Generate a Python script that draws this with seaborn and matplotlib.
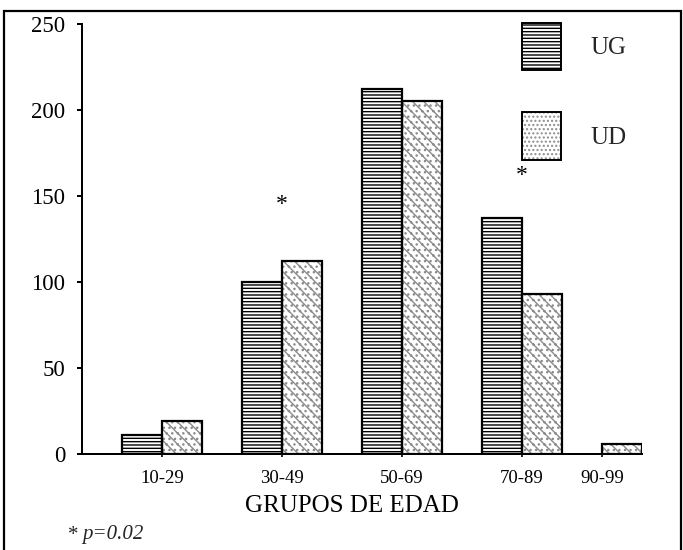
import numpy as np
import pandas as pd
import matplotlib
matplotlib.use("Agg")
import matplotlib.pyplot as plt
import seaborn as sns
from matplotlib.patches import Patch, Rectangle
from matplotlib.transforms import ScaledTranslation

# ---- data ----
groups = ["10-29", "30-49", "50-69", "70-89", "90-99"]
ug_values = [11, 100, 212, 137, np.nan]
ud_values = [19, 112, 205, 93, 6]
series = ["UG", "UD"]
y_ticks = [0, 50, 100, 150, 200, 250]
star_groups = ["30-49", "70-89"]
star_heights = [145, 162]
x_title = "GRUPOS DE EDAD"
footnote = "p=0.02"

# ---- layout (group centres on the axis) ----
group_pos = [0.0, 1.0, 2.0, 3.0, 11.0 / 3.0]

sns.set_theme(style="white")
plt.rcParams["font.family"] = ["Liberation Serif", "DejaVu Serif"]
plt.rcParams["hatch.linewidth"] = 1.0

df = pd.DataFrame({
    "pos": group_pos * 2,
    "value": ug_values + ud_values,
    "serie": [series[0]] * len(groups) + [series[1]] * len(groups),
}).dropna()

fig = plt.figure(figsize=(6.83, 5.5), dpi=100)
ax = fig.add_axes([82 / 683, 1 - 454 / 550, 560 / 683, 430 / 550])

ud_color = "#8c8c8c"
# hatched fill layer
sns.barplot(data=df, x="pos", y="value", hue="serie", hue_order=series,
            native_scale=True, width=1.0, dodge=True,
            palette=["white", "white"], edgecolor=ud_color, linewidth=0,
            errorbar=None, legend=False, ax=ax)
ug_hatch = "-----"
ud_hatch = "\\\\\\..."
for bar in ax.containers[0]:
    bar.set_hatch(ug_hatch)
    bar.set_edgecolor("black")
    bar.set_linewidth(0)
for bar in ax.containers[1]:
    bar.set_hatch(ud_hatch)
    bar.set_edgecolor(ud_color)
    bar.set_linewidth(0)

# outline layer
sns.barplot(data=df, x="pos", y="value", hue="serie", hue_order=series,
            native_scale=True, width=1.0, dodge=True, fill=False,
            palette=["black", "black"], linewidth=1.6,
            errorbar=None, legend=False, ax=ax)

ax.set_xlim(-2.0 / 3.0, 4.0)
ax.set_ylim(0, 250)
ax.set_yticks(y_ticks)
ax.set_yticklabels([str(v) for v in y_ticks], fontsize=16.5)
ax.set_xticks(group_pos)
ax.set_xticklabels(groups, fontsize=13.5)
lab = ax.get_xticklabels()[-1]
lab.set_transform(lab.get_transform() + ScaledTranslation(0.10, 0, fig.dpi_scale_trans))

ax.tick_params(axis="y", direction="out", length=3.6, width=1.44, pad=8.5,
               colors="black", left=True)
ax.tick_params(axis="x", direction="out", length=2.5, width=1.2, pad=9.0,
               colors="black", bottom=True)
for s in ["top", "right"]:
    ax.spines[s].set_visible(False)
for s in ["left", "bottom"]:
    ax.spines[s].set_linewidth(1.44)
    ax.spines[s].set_color("black")
ax.grid(False)
ax.set_ylabel("")
ax.set_xlabel(x_title, fontsize=18, color="black")
ax.xaxis.set_label_coords((352 - 82) / 560, -(506 - 454) / 430)
ax.xaxis.label.set_va("center")

# significance stars
for g, h in zip(star_groups, star_heights):
    ax.text(group_pos[groups.index(g)], h, "*", ha="center", va="center",
            fontsize=17, color="black")

# legend
handles = [
    Patch(facecolor="white", edgecolor="black", hatch=ug_hatch, linewidth=1.4),
    (Patch(facecolor="white", edgecolor=ud_color, hatch="....", linewidth=0),
     Patch(facecolor="none", edgecolor="black", linewidth=1.4)),
]
leg = fig.legend(handles, series, loc="upper left",
                 bbox_to_anchor=(522 / 683, 1 - 23 / 550),
                 frameon=False, fontsize=18, borderpad=0, borderaxespad=0,
                 handlelength=1.57, handleheight=2.53, labelspacing=1.69,
                 handletextpad=1.16)

# footnote
fig.text(68 / 683, 1 - 535 / 550, "*", ha="left", va="center", fontsize=15)
fig.text(82 / 683, 1 - 535 / 550, footnote, ha="left", va="center",
         fontsize=15, style="italic")

# outer frame
fig.add_artist(Rectangle((4 / 683, -0.1), 677 / 683, 1.1 - 11 / 550,
                         transform=fig.transFigure, fill=False,
                         edgecolor="black", linewidth=1.6))

fig.savefig("out.png", dpi=100)
